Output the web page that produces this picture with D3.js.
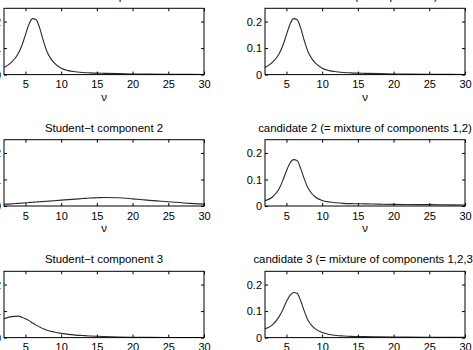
<!DOCTYPE html>
<html>
<head>
<meta charset="utf-8">
<script src="https://cdn.jsdelivr.net/npm/d3@7"></script>
<style>
  body { margin: 0; background: #fff; }
  svg { display: block; font-family: "Liberation Sans", Arial, sans-serif; }
  .title { font-size: 11.4px; text-anchor: middle; }
  .tick text { font-size: 11px; }
</style>
</head>
<body>
<div id="chart"></div>
<script>
// degrees of freedom grid
var nu = [2, 3, 4, 4.5, 5, 5.5, 6, 6.5, 7, 7.5, 8, 8.5, 9, 10, 11, 12, 13, 14, 15, 16, 18, 20, 22, 25, 28, 30];

// densities
var comp1 = [0.027, 0.045, 0.080, 0.110, 0.150, 0.190, 0.211, 0.207, 0.175, 0.128, 0.088, 0.062, 0.045, 0.024, 0.015, 0.011,
             0.008, 0.0065, 0.0055, 0.0048, 0.0035, 0.0025, 0.0019, 0.0012, 0.0008, 0.0006];
var comp2 = [0.007, 0.008, 0.010, 0.011, 0.012, 0.013, 0.014, 0.015, 0.016, 0.017, 0.018, 0.019, 0.020, 0.022, 0.024, 0.026,
             0.028, 0.030, 0.031, 0.032, 0.031, 0.027, 0.022, 0.016, 0.010, 0.007];
var comp3 = [0.071, 0.079, 0.081, 0.077, 0.071, 0.064, 0.055, 0.047, 0.040, 0.033, 0.028, 0.024, 0.021, 0.016, 0.012, 0.0095,
             0.0078, 0.0062, 0.005, 0.004, 0.0025, 0.0015, 0.001, 0.0006, 0.0004, 0.0003];
var cand2 = [0.020, 0.033, 0.066, 0.097, 0.132, 0.162, 0.175, 0.171, 0.141, 0.102, 0.069, 0.049, 0.035, 0.021, 0.015, 0.012,
             0.010, 0.009, 0.0085, 0.008, 0.007, 0.006, 0.0055, 0.005, 0.0043, 0.004];
var cand3 = [0.033, 0.047, 0.080, 0.105, 0.136, 0.159, 0.170, 0.167, 0.138, 0.100, 0.066, 0.047, 0.034, 0.019, 0.012, 0.008,
             0.006, 0.0045, 0.004, 0.0035, 0.003, 0.0025, 0.002, 0.0015, 0.0012, 0.001];

var xTicks = [5, 10, 15, 20, 25, 30];
var yTicks = [0, 0.1, 0.2];

var panels = [
  {title: "Student\u2212t component 1", values: comp1, col: 0, row: 0},
  {title: "candidate 1 (= component 1)", values: comp1, col: 1, row: 0},
  {title: "Student\u2212t component 2", values: comp2, col: 0, row: 1},
  {title: "candidate 2 (= mixture of components 1,2)", values: cand2, col: 1, row: 1},
  {title: "Student\u2212t component 3", values: comp3, col: 0, row: 2},
  {title: "candidate 3 (= mixture of components 1,2,3)", values: cand3, col: 1, row: 2}
];

var svg = d3.select("#chart")
            .append("svg")
              .attr("width", 473)
              .attr("height", 350);

var colLeft = [4, 265];
var rowTop = [8.3, 139.7, 271.3];
var width = 200;
var height = 66.3;

var x = d3.scaleLinear().domain([2, 30]).range([0, width]);
var y = d3.scaleLinear().domain([0, 0.25]).range([height, 0]);
var fmt = function(d) { return d === 0 ? "0" : d.toFixed(1); };

var line = d3.line()
             .x(function(d) { return x(d[0]); })
             .y(function(d) { return y(d[1]); })
             .curve(d3.curveMonotoneX);

panels.forEach(function(p) {
  var g = svg.append("g")
             .attr("transform", "translate(" + colLeft[p.col] + "," + rowTop[p.row] + ")");

  // curve
  g.append("path")
    .datum(nu.map(function(v, i) { return [v, p.values[i]]; }))
    .attr("fill", "none")
    .attr("stroke", "#2a2a2a")
    .attr("stroke-width", 1.1)
    .attr("d", line);

  // axes, ticks pointing inward on all four sides
  g.append("g")
    .attr("transform", "translate(0," + height + ")")
    .call(d3.axisBottom(x).tickValues(xTicks).tickSize(-3).tickPadding(6))
    .call(function(a) { a.select(".domain").remove(); });
  g.append("g")
    .call(d3.axisTop(x).tickValues(xTicks).tickSize(-3).tickFormat(""))
    .call(function(a) { a.select(".domain").remove(); });
  g.append("g")
    .call(d3.axisLeft(y).tickValues(yTicks).tickSize(-3).tickPadding(3).tickFormat(fmt))
    .call(function(a) { a.select(".domain").remove(); });
  g.append("g")
    .attr("transform", "translate(" + width + ",0)")
    .call(d3.axisRight(y).tickValues(yTicks).tickSize(-3).tickFormat(""))
    .call(function(a) { a.select(".domain").remove(); });

  g.append("rect")
    .attr("width", width)
    .attr("height", height)
    .attr("fill", "none")
    .attr("stroke", "#000")
    .attr("stroke-width", 1);

  g.append("text")
    .attr("class", "title")
    .attr("x", width / 2)
    .attr("y", -8)
    .text(p.title);

  g.append("text")
    .attr("class", "title")
    .attr("x", width / 2)
    .attr("y", height + 26)
    .text("\u03bd");
});
</script>
</body>
</html>
